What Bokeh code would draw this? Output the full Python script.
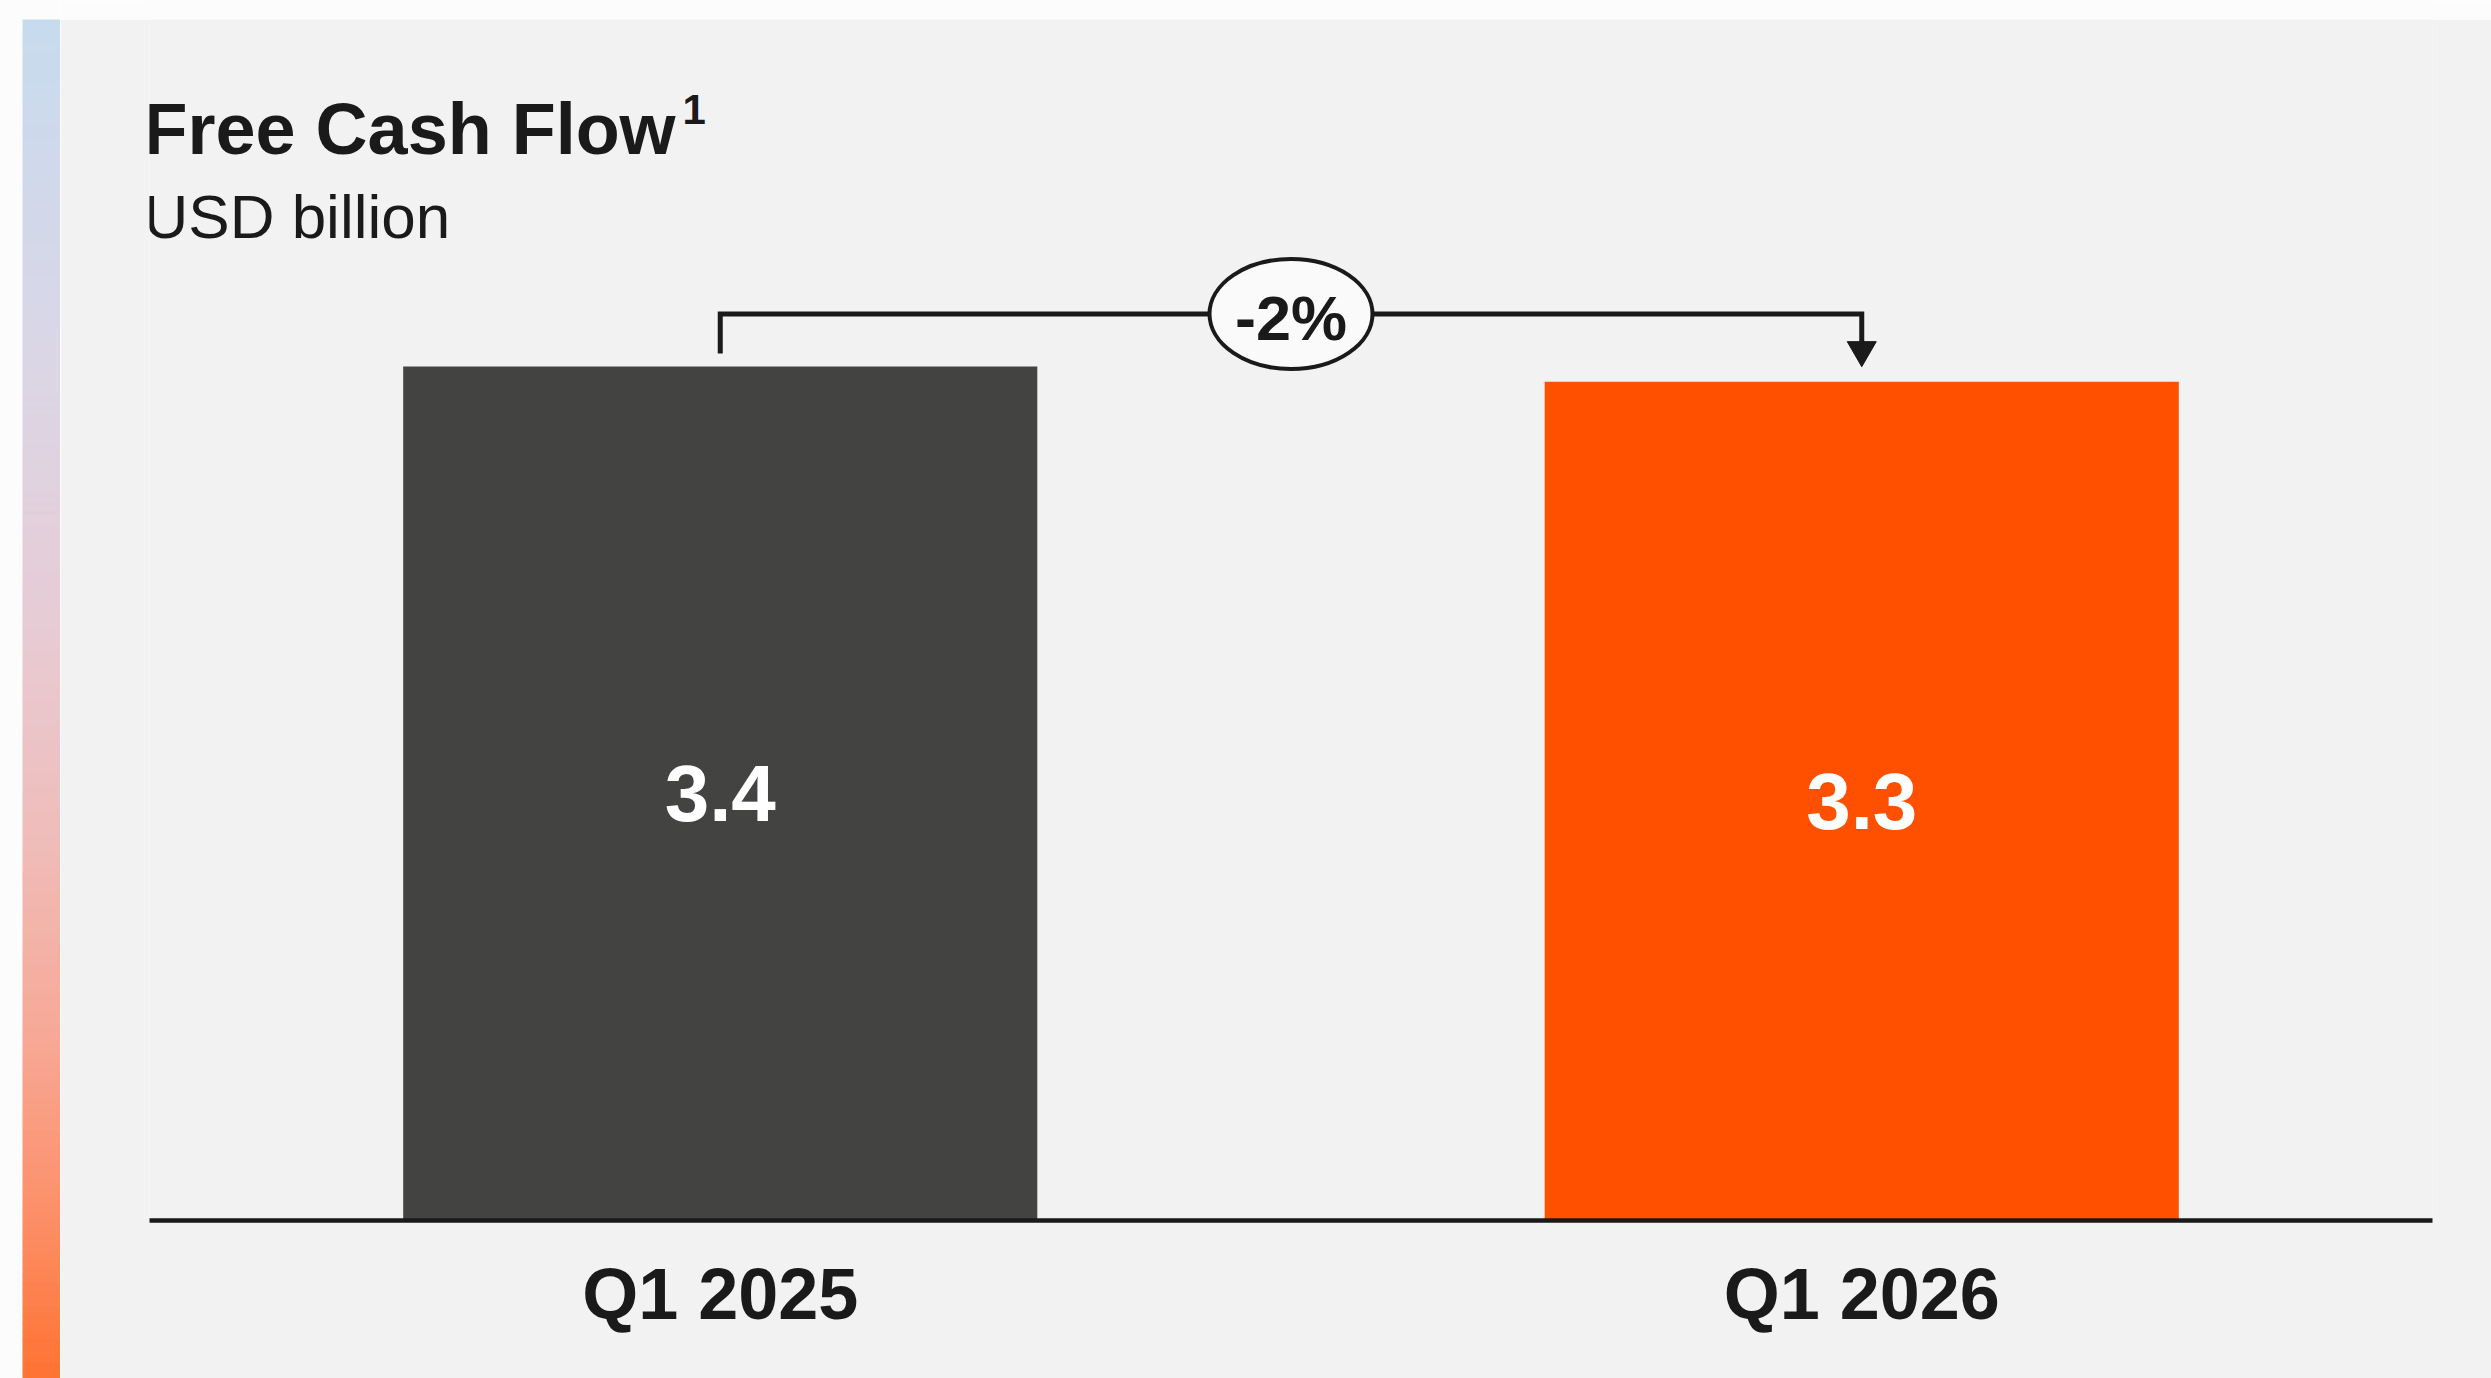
from bokeh.plotting import figure
from bokeh.models import Range1d, FactorRange, ColumnDataSource
from bokeh.layouts import row, column
from bokeh.embed import file_html
from bokeh.resources import INLINE
from bokeh.core.properties import value

# ---------------- data ----------------
categories = ["Q1 2025", "Q1 2026"]
values = [3.38, 3.32]
value_labels = ["3.4", "3.3"]
bar_colors = ["#434341", "#ff5000"]
change_label = "-2%"
title_text = "Free Cash Flow"
title_sup = "1"
subtitle_text = "USD billion"

FONT = "Liberation Sans"
INK = "#1a1a1a"
PANEL = "#f2f2f2"
OUTER = "#fcfcfc"

# ---------------- left gradient strip ----------------
left = figure(width=60, height=1378, output_backend="svg", toolbar_location=None,
              x_range=Range1d(0, 60), y_range=Range1d(1378, 0),
              x_axis_location=None, y_axis_location=None,
              min_border=0, min_border_left=0, min_border_right=0,
              min_border_top=0, min_border_bottom=0)
left.background_fill_color = OUTER
left.border_fill_color = OUTER
left.outline_line_color = None
left.grid.visible = False

stops = [(0.0, (199, 219, 238)), (0.25, (218, 214, 230)), (0.45, (231, 203, 212)),
         (0.6, (239, 189, 186)), (0.75, (247, 168, 150)), (0.88, (252, 143, 104)),
         (1.0, (255, 114, 50))]

def grad(t):
    for (t0, c0), (t1, c1) in zip(stops[:-1], stops[1:]):
        if t <= t1:
            f = (t - t0) / (t1 - t0) if t1 > t0 else 0
            return "#%02x%02x%02x" % tuple(int(round(a + (b - a) * f)) for a, b in zip(c0, c1))
    return "#%02x%02x%02x" % stops[-1][1]

n = 170
y0, y1 = 19, 1378
tops = [y0 + (y1 - y0) * i / n for i in range(n)]
bots = [y0 + (y1 - y0) * (i + 1) / n + 0.6 for i in range(n)]
cols = [grad((i + 0.5) / n) for i in range(n)]
left.quad(left=22, right=60, top=tops, bottom=bots, fill_color=cols, line_color=None)

# ---------------- top strip ----------------
top = figure(width=2431, height=19, output_backend="svg", toolbar_location=None,
             x_range=Range1d(0, 1), y_range=Range1d(0, 1),
             x_axis_location=None, y_axis_location=None,
             min_border=0, min_border_left=0, min_border_right=0,
             min_border_top=0, min_border_bottom=0)
top.background_fill_color = OUTER
top.border_fill_color = OUTER
top.outline_line_color = None
top.grid.visible = False
top.quad(left=[0], right=[1], top=[1], bottom=[0], fill_color=OUTER, line_color=None)

# ---------------- main chart ----------------
Y_TOP = 4.7534
p = figure(width=2431, height=1359, output_backend="svg", toolbar_location=None,
           x_range=FactorRange(factors=categories, range_padding=0, factor_padding=0),
           y_range=Range1d(0, Y_TOP),
           y_axis_location=None, x_axis_location="below",
           min_border_left=89, min_border_right=59, min_border_top=0, min_border_bottom=158)
p.background_fill_color = PANEL
p.border_fill_color = PANEL
p.outline_line_color = None
p.grid.visible = False
# page-pixel vertical range for decorations
p.extra_y_ranges = {"py": Range1d(1220, 19)}

# synthetic x: factor i centre at i + 0.5; range [0, 2] spans the frame (2283 px)
PXU = 2283 / 2.0
def sx(page_x):
    return (page_x - 149) / PXU

src = ColumnDataSource(dict(cat=categories, val=values, mid=[v / 2 for v in values],
                            lab=value_labels, color=bar_colors))
p.vbar(x="cat", top="val", width=0.5555, fill_color="color", line_color=None, source=src)
p.text(x="cat", y="mid", text="lab", source=src, text_font=value(FONT),
       text_font_size=value("80px"), text_font_style="bold", text_color="white",
       text_align="center", text_baseline="middle")

# change bracket
p.line(x=[categories[0], categories[0], categories[1], categories[1]],
       y=[353, 313.5, 313.5, 345], y_range_name="py",
       line_color=INK, line_width=5, line_join="miter")
p.scatter(x=[categories[1]], y=[349.5], y_range_name="py", marker="inverted_triangle",
          size=29, fill_color=INK, line_color=INK, line_width=1)
p.ellipse(x=[1.0], y=[313.5], width=[163], height=[110],
          width_units="screen", height_units="screen", y_range_name="py",
          fill_color="#fafafa", line_color=INK, line_width=4)
p.text(x=[1.0], y=[317], text=[change_label], y_range_name="py",
       text_font=value(FONT), text_font_size=value("63px"), text_font_style="bold",
       text_color=INK, text_align="center", text_baseline="middle")

# titles (positioned by cap-height centre)
p.text(x=[sx(143)], y=[128], text=[title_text], y_range_name="py",
       text_font=value(FONT), text_font_size=value("72px"), text_font_style="bold",
       text_color=INK, text_align="left", text_baseline="middle")
p.text(x=[sx(682)], y=[109], text=[title_sup], y_range_name="py",
       text_font=value(FONT), text_font_size=value("42px"), text_font_style="bold",
       text_color=INK, text_align="left", text_baseline="middle")
p.text(x=[sx(143)], y=[216], text=[subtitle_text], y_range_name="py",
       text_font=value(FONT), text_font_size=value("62px"), text_font_style="normal",
       text_color=INK, text_align="left", text_baseline="middle")

# axis
ax = p.xaxis[0]
ax.axis_line_color = INK
ax.axis_line_width = 4.5
ax.major_tick_line_color = None
ax.major_tick_in = 0
ax.major_tick_out = 0
ax.minor_tick_line_color = None
ax.major_label_text_font = FONT
ax.major_label_text_font_size = "72px"
ax.major_label_text_font_style = "bold"
ax.major_label_text_color = INK
ax.major_label_standoff = 33

layout = row(left, column(top, p, spacing=0), spacing=0)
open("out.html", "w").write(file_html(layout, INLINE))
